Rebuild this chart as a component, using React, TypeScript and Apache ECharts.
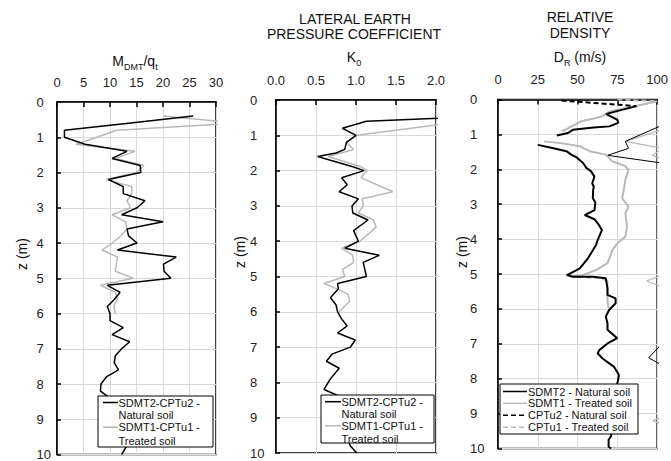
import React, { useEffect, useRef } from "react";
import * as echarts from "echarts";

const FONT = "'Liberation Sans', Arial, sans-serif";

// Panel 1: M_DMT/q_t  [value, depth]
const mNatural: (number | string)[][] = [[25.7,0.4],[13.5,0.6],[1.4,0.8],[1.4,1.0],[5.3,1.2],[13.2,1.4],[10.4,1.6],[15.7,1.8],[15.8,2.0],[9.7,2.2],[12.5,2.4],[12.5,2.6],[16.6,2.8],[15.1,3.0],[12.2,3.2],[20.0,3.4],[13.2,3.6],[13.5,3.8],[15.1,4.0],[11.4,4.2],[22.5,4.4],[20.1,4.6],[20.2,4.8],[21.5,5.0],[9.5,5.2],[11.9,5.4],[10.8,5.6],[9.5,5.8],[10.0,6.0],[10.0,6.2],[12.5,6.4],[10.4,6.6],[13.7,6.8],[12.2,7.0],[11.0,7.2],[10.8,7.4],[11.6,7.6],[9.3,7.8],[8.3,8.0],[8.2,8.2],[10.0,8.4],[11.0,8.6],[11.5,8.8],[12.0,9.0],[12.5,9.2],[13.0,9.4],[13.5,9.6],[13.0,9.8],[12.2,10.0]];
const mTreated: (number | string)[][] = [[20.1,0.4],[34,0.6],[11.3,0.8],[7.5,1.0],[3.6,1.2],[14.7,1.4],[11.1,1.6],[16.4,1.8],[15.0,2.0],[9.3,2.2],[14.1,2.4],[14.1,2.6],[13.2,2.8],[13.9,3.0],[10.4,3.2],[13.0,3.4],[13.2,3.6],[12.0,3.8],[10.5,4.0],[8.5,4.2],[11.4,4.4],[11.2,4.6],[11.0,4.8],[14.4,5.0],[8.2,5.2],[11.0,5.4],[11.4,5.6],[10.7,5.8],[11.0,6.0]];

// Panel 2: K0
const k0Natural: (number | string)[][] = [[3.3,0.4],[1.13,0.6],[0.83,0.8],[1.0,1.0],[0.88,1.2],[0.86,1.4],[0.75,1.5],[0.52,1.6],[0.97,1.9],[1.1,2.0],[0.82,2.2],[0.89,2.4],[0.79,2.6],[1.03,2.8],[0.95,3.0],[0.96,3.2],[1.15,3.4],[0.97,3.7],[1.03,4.0],[0.86,4.2],[1.29,4.4],[1.09,4.6],[1.11,4.8],[1.13,5.0],[0.77,5.2],[0.78,5.35],[0.68,5.6],[0.75,5.8],[0.77,6.0],[0.82,6.2],[0.89,6.4],[0.77,6.6],[0.99,6.8],[0.93,7.0],[0.70,7.2],[0.63,7.4],[0.79,7.6],[0.68,7.9],[0.6,8.2],[0.8,8.4],[0.85,8.8],[0.9,9.2],[0.88,9.5],[0.93,9.8],[1.01,10.0]];
const k0Treated: (number | string)[][] = [[2.38,0.6],[1.01,1.0],[0.88,1.2],[0.97,1.4],[0.65,1.6],[1.07,1.9],[1.14,2.0],[1.06,2.2],[1.46,2.6],[1.08,2.8],[1.09,3.0],[1.03,3.2],[1.22,3.4],[1.25,3.6],[1.05,4.0],[0.82,4.2],[0.96,4.4],[0.97,4.6],[0.83,4.8],[0.86,5.0],[0.6,5.2],[0.76,5.35],[0.9,5.5],[0.92,5.7],[0.79,6.0]];

// Panel 3: D_R
const drSdmtNatural: (number | string)[][] = [[110,0.6],[80,1.2],[82,1.4],[68.8,1.6],[131,2.0],[125,3.0],[118,4.0],[125,5.0],[112,6.0],[103,7.0],[94.7,7.4],[102.5,7.6],[115,8.0],[120,9.0],[118,10]];
const drSdmtTreated: (number | string)[][] = [[107.6,0.8],[80,1.2],[103.5,1.4],[97,1.6],[110,1.8],[115,2.0],[120,3.0],[112,4.0],[105,5.0],[93.3,5.2],[105,5.4],[110,6.0],[118,7.0],[112,8.0],[108,9.0],[97.3,9.2],[108,9.4],[115,10]];
const drCptNaturalDashed: (number | string)[][] = [[40,0.03],[87,0.19]];
const drCptNatural: (number | string)[][] = [[87,0.19],[70,0.39],[68,0.42],[75,0.58],[75.5,0.67],[70,0.77],[60,0.80],[47,0.87],[44,0.96],[37,1.03],["-","-"],[25,1.30],[32,1.37],[43,1.48],[46,1.58],[49.4,1.66],[53.5,1.82],[55.5,1.96],[58.5,2.06],[60.6,2.21],[59.2,2.40],[60.2,2.5],[59.8,2.59],[59.6,2.83],[61.2,2.95],[60.6,3.17],[54.5,3.31],[60.6,3.43],[63.5,3.6],[65.3,3.74],[62.6,4.03],[61.6,4.17],[59.6,4.32],[56.5,4.55],[51.4,4.84],[44.3,5.01],[43.2,5.03],[47.3,5.08],[59.6,5.08],[67.7,5.12],[68.8,5.41],[68.8,5.6],[73.9,5.70],[73.9,5.84],[69.8,6.03],[67.7,6.22],[68.8,6.41],[68.8,6.6],[74.9,6.84],[68.8,6.99],[63.7,7.18],[62.6,7.27],[65.7,7.42],[72.9,7.66],[75.9,7.89],[75.5,8.04],[74,8.3],[72,8.7],[71,9.1],[72,9.4],[71,9.65],[69.5,9.75],[69.5,9.95],[71,10]];
const drCptTreatedDashed: (number | string)[][] = [[75,0.0],[100,0.05],["-","-"],[45.3,5.08],[65.7,5.12]];
const drCptTreated: (number | string)[][] = [[100,0.05],[88,0.17],[70,0.34],[65.7,0.48],[59.6,0.55],[52.4,0.62],[48.4,0.72],[42.2,0.87],[40.2,0.91],["-","-"],[29,1.20],[39.2,1.25],[51.4,1.34],[57.6,1.48],[67.7,1.58],[71.8,1.77],[80,1.91],[82,2.02],[80,2.31],[79,2.59],[78,2.83],[82,3.07],[80,3.26],[81,3.64],[80,3.93],[75,4.12],[71.8,4.32],[70.8,4.46],[68.8,4.69],[61.6,4.89],[53.5,5.03],[45.3,5.08],["-","-"],[65.7,5.12],[68.8,5.22],[68.8,5.79],[69.5,5.98]];

const BLACK = "#000000";
const GRAY = "#b8b8b8";
const GRID_LINE = "#d9d9d9";

function xAxis(gridIndex: number, max: number, interval: number, fmt: (v: number) => string) {
  return {
    type: "value", gridIndex, position: "top", min: 0, max, interval,
    axisLine: { show: true, lineStyle: { color: BLACK, width: 1.5 } },
    axisTick: { show: true, inside: true, length: 5, lineStyle: { color: BLACK, width: 1.5 } },
    axisLabel: { margin: 20, fontSize: 13, color: "#222", fontFamily: FONT, verticalAlign: "middle", formatter: fmt },
    splitLine: { show: true, lineStyle: { color: GRID_LINE, width: 1 } },
  };
}
function yAxis(gridIndex: number, margin: number) {
  return {
    type: "value", gridIndex, position: "left", inverse: true, min: 0, max: 10, interval: 1,
    axisLine: { show: true, lineStyle: { color: BLACK, width: 1.5 } },
    axisTick: { show: true, inside: true, length: 4, lineStyle: { color: BLACK, width: 1.5 } },
    axisLabel: { margin, align: "left", fontSize: 13, color: "#222", fontFamily: FONT },
    splitLine: { show: true, lineStyle: { color: GRID_LINE, width: 1 } },
  };
}
function line(name: string, xi: number, data: any[], color: string, width: number, type: any = "solid") {
  return {
    name, type: "line", xAxisIndex: xi, yAxisIndex: xi, data, symbol: "none", showSymbol: false,
    connectNulls: false, clip: true, lineStyle: { color, width, type }, silent: true,
  };
}
function txt(x: number, y: number, text: string, size = 14, extra: any = {}) {
  return { type: "text", x, y, z: 100, style: { text, fill: "#111", fontSize: size, fontFamily: FONT, align: "center", verticalAlign: "middle", ...extra } };
}
const subRich = {
  a: { fontSize: 14, fontFamily: FONT, fill: "#111", lineHeight: 20, verticalAlign: "middle" },
  b: { fontSize: 9, fontFamily: FONT, fill: "#111", lineHeight: 20, verticalAlign: "bottom" },
};
function legendBox(x: number, y: number, w: number, h: number, items: { text: string[]; color: string; dash?: number[]; ys: number[] }[], iconX1: number, iconX2: number, textX: number) {
  const els: any[] = [{ type: "rect", z: 100, shape: { x, y, width: w, height: h }, style: { fill: "#fff", stroke: BLACK, lineWidth: 1 } }];
  items.forEach((it) => {
    els.push({ type: "line", z: 101, shape: { x1: iconX1, y1: it.ys[0], x2: iconX2, y2: it.ys[0] }, style: { stroke: it.color, lineWidth: 1.5, lineDash: it.dash || null } });
    it.text.forEach((t, i) => {
      els.push({ type: "text", z: 101, x: textX, y: it.ys[i], style: { text: t, fill: "#111", fontSize: 11, lineHeight: 10, fontFamily: FONT, align: "left", verticalAlign: "middle" } });
    });
  });
  return els;
}

export default function App() {
  const ref = useRef<HTMLDivElement>(null);
  useEffect(() => {
    const chart = echarts.init(ref.current!, null, { renderer: "svg" });
    const option: any = {
      animation: false,
      backgroundColor: "#fff",
      grid: [
        { left: 57, top: 102, width: 159, height: 353, show: true, borderColor: BLACK, borderWidth: 1.5 },
        { left: 276, top: 100, width: 160, height: 353, show: true, borderColor: BLACK, borderWidth: 1.5 },
        { left: 498, top: 99.5, width: 162.5, height: 349, show: true, borderColor: BLACK, borderWidth: 1.5 },
      ],
      xAxis: [
        xAxis(0, 30, 5, (v) => String(v)),
        xAxis(1, 2, 0.5, (v) => v.toFixed(1)),
        xAxis(2, 100, 25, (v) => String(v)),
      ],
      yAxis: [yAxis(0, 20.5), yAxis(1, 26), yAxis(2, 28)],
      series: [
        line("SDMT1-CPTu1 - Treated soil", 0, mTreated, GRAY, 1.5),
        line("SDMT2-CPTu2 - Natural soil", 0, mNatural, BLACK, 1.5),
        line("SDMT1-CPTu1 - Treated soil K0", 1, k0Treated, GRAY, 1.5),
        line("SDMT2-CPTu2 - Natural soil K0", 1, k0Natural, BLACK, 1.5),
        line("SDMT1 - Treated soil", 2, drSdmtTreated, GRAY, 1.2),
        line("SDMT2 - Natural soil", 2, drSdmtNatural, BLACK, 1),
        line("CPTu1 - Treated soil", 2, drCptTreated, GRAY, 2),
        line("CPTu1 - Treated soil dashed", 2, drCptTreatedDashed, GRAY, 2, [5, 3]),
        line("CPTu2 - Natural soil dashed", 2, drCptNaturalDashed, BLACK, 2, [5, 3]),
        line("CPTu2 - Natural soil", 2, drCptNatural, BLACK, 2),
      ],
      graphic: [
        { type: "text", x: 135, y: 61, z: 100, style: { text: "{a|M}{b|DMT}{a|/q}{b|t}", rich: subRich, align: "center", verticalAlign: "middle" } },
        txt(355, 19, "LATERAL EARTH"),
        txt(354, 34, "PRESSURE COEFFICIENT"),
        { type: "text", x: 354, y: 57, z: 100, style: { text: "{a|K}{b|0}", rich: subRich, align: "center", verticalAlign: "middle" } },
        txt(580, 17, "RELATIVE"),
        txt(580, 33, "DENSITY"),
        { type: "text", x: 580, y: 57, z: 100, style: { text: "{a|D}{b|R}{a| (m/s)}", rich: subRich, align: "center", verticalAlign: "middle" } },
        { ...txt(22, 254, "z (m)"), rotation: Math.PI / 2 },
        { ...txt(240, 252, "z (m)"), rotation: Math.PI / 2 },
        { ...txt(462, 252, "z (m)"), rotation: Math.PI / 2 },
        ...legendBox(98, 396, 115, 51, [
          { text: ["SDMT2-CPTu2 -", "Natural soil"], color: BLACK, ys: [402.5, 415.2] },
          { text: ["SDMT1-CPTu1 -", "Treated soil"], color: GRAY, ys: [427.2, 440.5] },
        ], 103, 118, 118.5),
        ...legendBox(321, 395, 113, 48, [
          { text: ["SDMT2-CPTu2 -", "Natural soil"], color: BLACK, ys: [401.7, 414.2] },
          { text: ["SDMT1-CPTu1 -", "Treated soil"], color: GRAY, ys: [425.8, 439.3] },
        ], 325, 341, 341.5),
        ...legendBox(500, 384, 138, 50, [
          { text: ["SDMT2 - Natural soil"], color: BLACK, ys: [391.5] },
          { text: ["SDMT1 - Treated soil"], color: GRAY, ys: [403.4] },
          { text: ["CPTu2 - Natural soil"], color: BLACK, dash: [5, 3], ys: [415.3] },
          { text: ["CPTu1 - Treated soil"], color: GRAY, dash: [5, 3], ys: [427.2] },
        ], 503, 527, 528),
      ],
    };
    chart.setOption(option);
    return () => chart.dispose();
  }, []);
  return <div ref={ref} style={{ position: "fixed", left: 0, top: 0, width: 671, height: 461 }} />;
}
